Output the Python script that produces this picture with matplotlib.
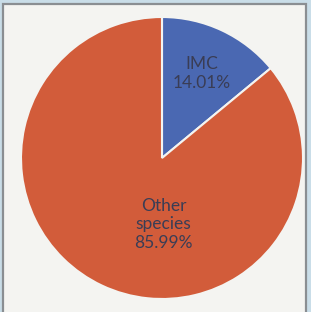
import matplotlib.pyplot as plt
from matplotlib.patches import Rectangle

labels = ["IMC", "Other\nspecies"]
shares = [14.01, 85.99]
colors = ["#4a68b2", "#d25c3a"]

plt.rcParams['font.family'] = ['Lato', 'DejaVu Sans']

fig = plt.figure(figsize=(3.11, 3.12), dpi=100)
fig.patch.set_facecolor("#c9dde8")

# white panel with grey frame
fig.patches.append(Rectangle((2.5 / 311, -0.01), (306 - 2.5) / 311, 1 - 4 / 312 + 0.01,
                             transform=fig.transFigure, facecolor="#f4f4f1",
                             edgecolor="#8a8e92", linewidth=1.6, zorder=-5))

# pie area: centre ~(162,158), radius ~141 px
cx, cy, r = 162, 158, 141
ax = fig.add_axes([(cx - r) / 311, 1 - (cy + r) / 312, 2 * r / 311, 2 * r / 312])
ax.set_facecolor("none")
ax.set_zorder(2)

wedges, texts = ax.pie(shares, colors=colors, startangle=90, counterclock=False,
                       wedgeprops=dict(edgecolor="#f4f4f1", linewidth=1.5))
ax.set_xlim(-1, 1)
ax.set_ylim(-1, 1)
ax.set_aspect("auto")

txt_col = "#3a3d55"
ax.text(0.285, 0.6, f"{labels[0]}\n{shares[0]:.2f}%", ha="center", va="center",
        fontsize=12.5, color=txt_col, linespacing=1.2)
ax.text(0.01, -0.47, f"{labels[1]}\n{shares[1]:.2f}%", ha="center", va="center",
        fontsize=12.5, color=txt_col, linespacing=1.2)

fig.savefig("out.png", dpi=100, facecolor=fig.get_facecolor())
